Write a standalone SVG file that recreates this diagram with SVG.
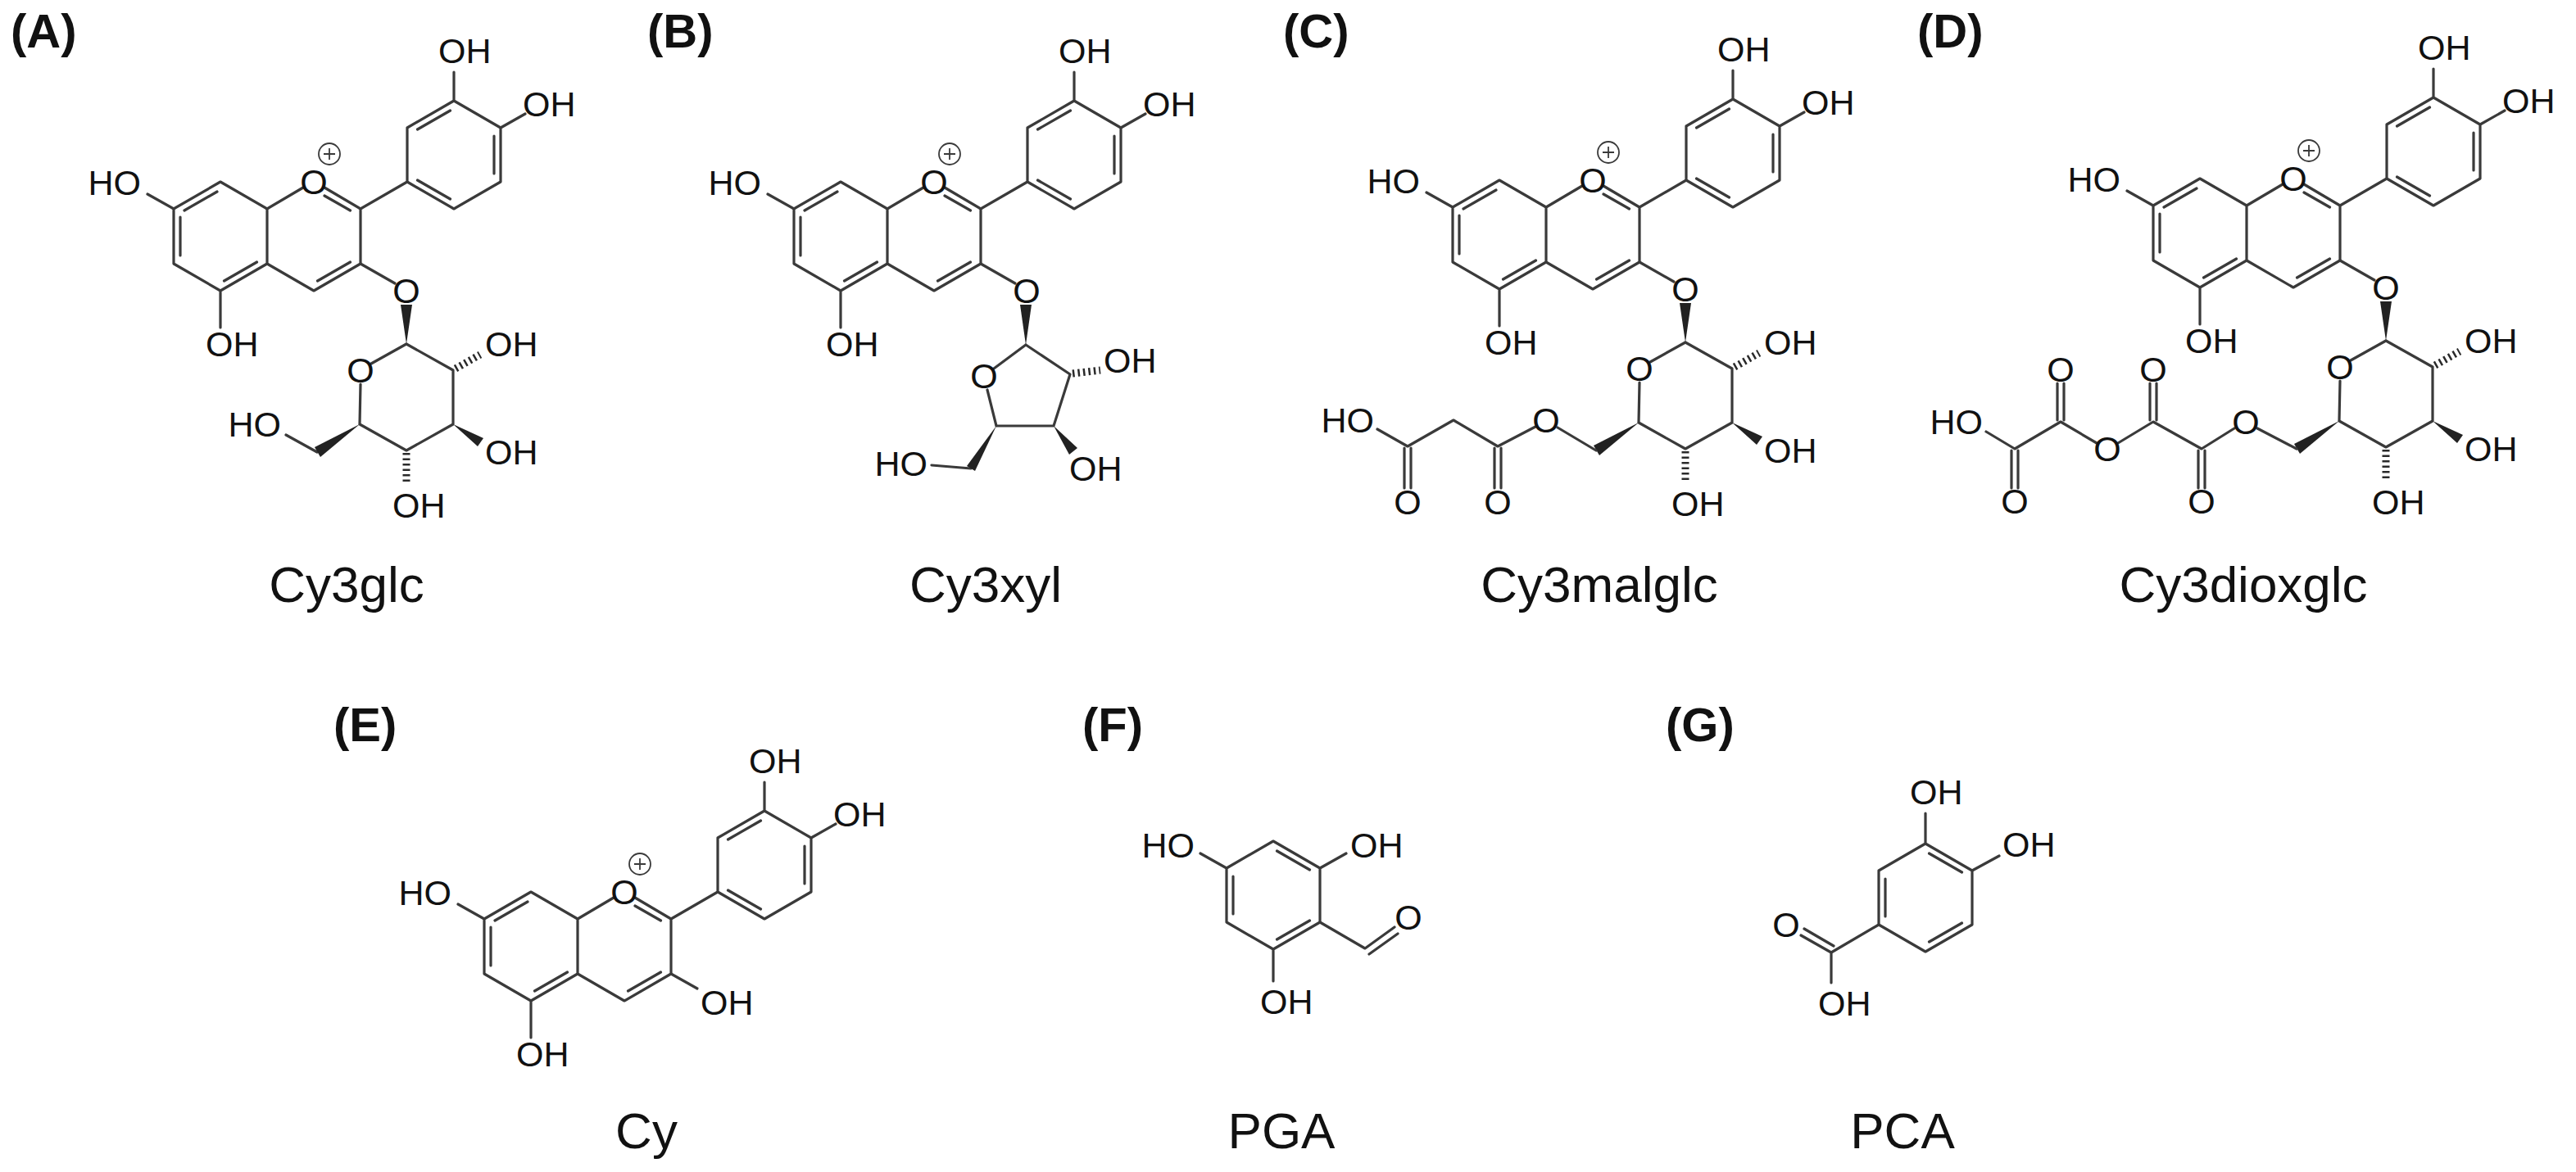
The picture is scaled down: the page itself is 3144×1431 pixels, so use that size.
<svg xmlns="http://www.w3.org/2000/svg" width="3144" height="1431" viewBox="0 0 3144 1431">
<style>
.b{stroke:#3a3a3a;stroke-width:3.2;fill:none;stroke-linecap:round;stroke-linejoin:round}
.h{stroke:#2a2a2a;stroke-width:9;stroke-dasharray:2.5,4;fill:none}
.w{fill:#222;stroke:none}
.c{stroke:#3a3a3a;stroke-width:1.8;fill:none}
.t{font-family:"Liberation Sans",Arial,sans-serif;font-size:43px;fill:#111}
.m{text-anchor:middle}
.e{text-anchor:end}
.lab{font-family:"Liberation Sans",Arial,sans-serif;font-size:62px;fill:#111;text-anchor:middle}
.pl{font-family:"Liberation Sans",Arial,sans-serif;font-size:58px;font-weight:bold;fill:#111}
</style>
<defs>
<path id="core" class="b" d="M212 255L269 222L326 255L370 229M396 229L440 255L440 322L383 355L326 322L326 255M326 322L269 355L212 322L212 255M225 257L265 234M220 265L220 312M313.5 320L273.5 343M427.5 320L387.5 343M396 239L427.5 257M440 255L497 222M497 222L497 156L554 123L611 156L611 222L554 255Z M509.5 158L549.5 135M603 166L603 212M549.5 243L509.5 220M554 123L554 88M611 156L641 139M212 255L180 237M269 355L269 400"/>
<g id="plus"><circle class="c" cx="402" cy="188" r="13"/><path class="c" d="M395 188H409M402 181V195"/></g>
</defs>
<g id="connectors"></g>

<g id="nodeA">
<text class="pl" x="13" y="58">(A)</text>
<use href="#core"/>
<text class="t m" x="383" y="237">O</text>
<use href="#plus"/>
<text class="t" x="535" y="77">OH</text><text class="t" x="638" y="142">OH</text>
<text class="t e" x="172" y="238">HO</text><text class="t" x="251" y="435">OH</text>
<path class="b" d="M440 322L482 346"/><text class="t m" x="496" y="370">O</text>
<polygon class="w" points="489,372 503,372 496,420"/>
<path class="b" d="M496 420L453 444M440 469L439 518M496 420L553 452L553 518L496 550L439 518M387 552L349 531"/>
<text class="t m" x="440" y="467">O</text>
<polygon class="w" points="439,518 384,546 391,558"/>
<text class="t e" x="343" y="533">HO</text>
<path class="h" d="M556 450L586 433"/><text class="t" x="592" y="435">OH</text>
<polygon class="w" points="553,518 583,545 590,535"/><text class="t" x="592" y="567">OH</text>
<path class="h" d="M496 553L496 592"/><text class="t" x="479" y="632">OH</text>
<text class="lab" x="423" y="735">Cy3glc</text>
</g>

<g id="nodeB">
<text class="pl" x="790" y="58">(B)</text>
<g transform="translate(757,0)">
<use href="#core"/>
<text class="t m" x="383" y="237">O</text>
<use href="#plus"/>
<text class="t" x="535" y="77">OH</text><text class="t" x="638" y="142">OH</text>
<text class="t e" x="172" y="238">HO</text><text class="t" x="251" y="435">OH</text>
<path class="b" d="M440 322L482 346"/><text class="t m" x="496" y="370">O</text>
<polygon class="w" points="488,372 502,372 495,421"/>
<path class="b" d="M495 421L456 450M448 476L459 520M495 421L549 457L529 520L459 520M428 572L380 568"/>
<text class="t m" x="444" y="474">O</text>
<polygon class="w" points="459,520 423,569 433,575"/>
<text class="t e" x="375" y="581">HO</text>
<path class="h" d="M552 456L586 452"/><text class="t" x="590" y="455">OH</text>
<polygon class="w" points="529,520 548,555 558,547"/><text class="t" x="548" y="587">OH</text>
</g>
<text class="lab" x="1203" y="735">Cy3xyl</text>
</g>

<g id="nodeC">
<text class="pl" x="1566" y="58">(C)</text>
<g transform="translate(1561,-2)">
<use href="#core"/>
<text class="t m" x="383" y="237">O</text>
<use href="#plus"/>
<text class="t" x="535" y="77">OH</text><text class="t" x="638" y="142">OH</text>
<text class="t e" x="172" y="238">HO</text><text class="t" x="251" y="435">OH</text>
<path class="b" d="M440 322L482 346"/><text class="t m" x="496" y="370">O</text>
<polygon class="w" points="489,372 503,372 496,420"/>
<path class="b" d="M496 420L453 444M440 469L439 518M496 420L553 452L553 518L496 550L439 518"/>
<text class="t m" x="440" y="467">O</text>
<polygon class="w" points="439,518 384,546 391,558"/>
<path class="h" d="M556 450L586 433"/><text class="t" x="592" y="435">OH</text>
<polygon class="w" points="553,518 583,545 590,535"/><text class="t" x="592" y="567">OH</text>
<path class="h" d="M496 553L496 592"/><text class="t" x="479" y="632">OH</text>
<path class="b" d="M387 552L340 524M313 523L267 547L213 515L157 547L120 526M263 549L263 598M271 549L271 598M153 549L153 598M161 549L161 598"/>
<text class="t m" x="326" y="530">O</text>
<text class="t m" x="267" y="630">O</text>
<text class="t m" x="157" y="630">O</text>
<text class="t e" x="116" y="530">HO</text>
</g>
<text class="lab" x="1952" y="735">Cy3malglc</text>
</g>

<g id="nodeD">
<text class="pl" x="2340" y="58">(D)</text>
<g transform="translate(2416,-4)">
<use href="#core"/>
<text class="t m" x="383" y="237">O</text>
<use href="#plus"/>
<text class="t" x="535" y="77">OH</text><text class="t" x="638" y="142">OH</text>
<text class="t e" x="172" y="238">HO</text><text class="t" x="251" y="435">OH</text>
<path class="b" d="M440 322L482 346"/><text class="t m" x="496" y="370">O</text>
<polygon class="w" points="489,372 503,372 496,420"/>
<path class="b" d="M496 420L453 444M440 469L439 518M496 420L553 452L553 518L496 550L439 518"/>
<text class="t m" x="440" y="467">O</text>
<polygon class="w" points="439,518 384,546 391,558"/>
<path class="h" d="M556 450L586 433"/><text class="t" x="592" y="435">OH</text>
<polygon class="w" points="553,518 583,545 590,535"/><text class="t" x="592" y="567">OH</text>
<path class="h" d="M496 553L496 592"/><text class="t" x="479" y="632">OH</text>
<path class="b" d="M387 552L339 527M311 527L271 552L212 519L169 545M143 545L99 519L43 552L8 531M267 554L267 600M275 554L275 600M208 517L208 472M216 517L216 472M95 517L95 472M103 517L103 472M39 554L39 600M47 554L47 600"/>
<text class="t m" x="325" y="534">O</text>
<text class="t m" x="271" y="631">O</text>
<text class="t m" x="212" y="470">O</text>
<text class="t m" x="156" y="567">O</text>
<text class="t m" x="99" y="470">O</text>
<text class="t m" x="43" y="631">O</text>
<text class="t e" x="4" y="534">HO</text>
</g>
<text class="lab" x="2738" y="735">Cy3dioxglc</text>
</g>

<g id="nodeE">
<text class="pl" x="407" y="905">(E)</text>
<g transform="translate(379,867)">
<use href="#core"/>
<text class="t m" x="383" y="237">O</text>
<use href="#plus"/>
<text class="t" x="535" y="77">OH</text><text class="t" x="638" y="142">OH</text>
<text class="t e" x="172" y="238">HO</text><text class="t" x="251" y="435">OH</text>
<path class="b" d="M440 322L472 340"/><text class="t" x="476" y="372">OH</text>
</g>
<text class="lab" x="789" y="1402">Cy</text>
</g>

<g id="nodeF">
<text class="pl" x="1321" y="905">(F)</text>
<path class="b" d="M1554 1027L1611 1060L1611 1126L1554 1159L1497 1126L1497 1060Z M1505 1070L1505 1116M1558.5 1039L1598.5 1062M1598.5 1124L1558.5 1147M1497 1060L1465 1042M1611 1060L1643 1042M1554 1159L1554 1198M1611 1126L1666 1158L1702 1132M1671 1165L1706 1140"/>
<text class="t e" x="1458" y="1047">HO</text>
<text class="t" x="1648" y="1047">OH</text>
<text class="t" x="1538" y="1238">OH</text>
<text class="t m" x="1719" y="1135">O</text>
<text class="lab" x="1564" y="1402">PGA</text>
</g>

<g id="nodeG">
<text class="pl" x="2033" y="905">(G)</text>
<path class="b" d="M2350 1030L2407 1063L2407 1129L2350 1162L2293 1129L2293 1063Z M2301 1073L2301 1119M2354.5 1042L2394.5 1065M2394.5 1127L2354.5 1150M2350 1030L2350 993M2407 1063L2440 1045M2293 1129L2235 1163L2235 1200M2235 1163L2198 1142M2238 1155L2202 1134"/>
<text class="t" x="2331" y="982">OH</text>
<text class="t" x="2444" y="1046">OH</text>
<text class="t m" x="2180" y="1144">O</text>
<text class="t" x="2219" y="1240">OH</text>
<text class="lab" x="2322" y="1402">PCA</text>
</g>
</svg>
